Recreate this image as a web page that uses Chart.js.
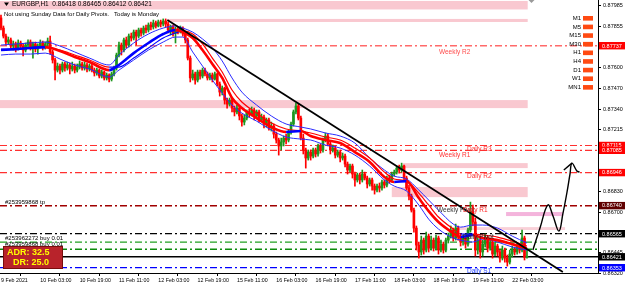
<!DOCTYPE html>
<html>
<head>
<meta charset="utf-8">
<title>EURGBP,H1</title>
<script src="https://cdn.jsdelivr.net/npm/chart.js"></script>
<style>
  html, body { margin: 0; padding: 0; background: #fff; }
</style>
</head>
<body>
<canvas id="myChart" width="625" height="288"></canvas>
<script>
var ctx = document.getElementById('myChart').getContext('2d');

// hourly bars from 9 Feb 2021 11:00, prices in points (1e-5)
var barOpen = [
 87910,87847,87797,87760,87773,87735,87748,87723,87754,87735,
 87710,87741,87760,87729,87748,87716,87735,87754,87729,87748,
 87766,87698,87648,87585,87610,87585,87623,87598,87617,87592,
 87610,87585,87604,87623,87598,87617,87592,87610,87585,87567,
 87585,87548,87573,87536,87554,87529,87561,87598,87679,87741,
 87710,87773,87741,87797,87785,87822,87797,87835,87816,87847,
 87835,87866,87854,87879,87860,87885,87872,87891,87872,87835,
 87854,87816,87841,87829,87847,87810,87773,87660,87536,87561,
 87523,87573,87548,87585,87561,87536,87554,87529,87561,87498,
 87448,87473,87398,87373,87398,87348,87324,87348,87299,87261,
 87286,87324,87311,87336,87299,87324,87274,87292,87249,87274,
 87224,87236,87186,87149,87112,87137,87161,87149,87199,87249,
 87324,87361,87286,87161,87087,87037,87074,87049,87087,87062,
 87112,87087,87149,87174,87124,87087,87099,87055,87074,87037,
 87049,86999,86962,86987,86937,86900,86931,86900,86937,86912,
 86875,86900,86862,86837,86862,86850,86887,86868,86912,86900,
 86937,86949,86974,86962,86987,86912,86850,86800,86712,86600,
 86494,86451,86525,86463,86550,86475,86525,86475,86538,86463,
 86500,86463,86525,86550,86588,86538,86600,86550,86513,86538,
 86500,86588,86700,86638,86463,86525,86451,86500,86538,86475,
 86513,86438,86488,86451,86413,86463,86413,86388,86438,86463,
 86451,86488,86463,86538,86418];
var barHigh = [
 87928,87860,87810,87791,87785,87766,87760,87773,87766,87748,
 87754,87773,87773,87760,87760,87748,87773,87766,87760,87785,
 87797,87710,87660,87629,87623,87635,87635,87635,87629,87635,
 87623,87623,87642,87635,87635,87629,87623,87623,87598,87598,
 87592,87585,87579,87567,87561,87573,87610,87691,87760,87754,
 87785,87791,87810,87816,87835,87835,87847,87847,87860,87866,
 87879,87885,87897,87891,87897,87897,87904,87904,87885,87866,
 87866,87854,87854,87860,87854,87822,87785,87673,87585,87573,
 87585,87585,87598,87598,87573,87567,87567,87573,87567,87511,
 87486,87479,87411,87411,87405,87361,87367,87361,87311,87305,
 87336,87342,87355,87348,87336,87336,87311,87305,87286,87286,
 87261,87249,87199,87161,87161,87174,87186,87211,87261,87336,
 87380,87373,87299,87186,87099,87087,87087,87099,87099,87124,
 87124,87161,87193,87186,87137,87118,87112,87087,87087,87068,
 87062,87012,86999,86999,86949,86943,86943,86962,86949,86924,
 86912,86912,86875,86875,86881,86900,86900,86924,86931,86949,
 86962,86987,86993,87005,86993,86924,86868,86812,86725,86613,
 86513,86550,86538,86575,86563,86550,86538,86557,86550,86525,
 86513,86538,86569,86613,86600,86625,86613,86563,86557,86550,
 86600,86762,86744,86663,86550,86538,86525,86563,86550,86538,
 86525,86513,86500,86463,86488,86475,86432,86463,86488,86482,
 86507,86500,86588,86550,86465];
var barLow = [
 87835,87785,87741,87748,87723,87710,87698,87710,87716,87673,
 87698,87729,87710,87660,87698,87685,87723,87710,87716,87735,
 87685,87629,87523,87573,87561,87573,87579,87585,87561,87579,
 87567,87573,87592,87585,87585,87573,87579,87573,87548,87554,
 87536,87536,87523,87523,87511,87517,87548,87585,87667,87679,
 87698,87723,87729,87766,87773,87741,87785,87797,87804,87816,
 87822,87835,87841,87847,87854,87854,87860,87854,87816,87804,
 87797,87754,87810,87816,87797,87754,87648,87511,87523,87498,
 87511,87529,87536,87548,87523,87523,87511,87523,87486,87423,
 87430,87373,87348,87361,87324,87299,87311,87274,87236,87243,
 87274,87292,87299,87274,87286,87261,87261,87224,87230,87211,
 87205,87161,87130,87055,87087,87112,87124,87137,87186,87236,
 87311,87274,87149,87062,86974,87024,87024,87037,87043,87049,
 87068,87074,87137,87112,87062,87074,87037,87043,87012,87024,
 86981,86937,86949,86912,86862,86887,86875,86887,86900,86850,
 86862,86837,86812,86825,86825,86837,86850,86856,86881,86887,
 86924,86937,86943,86949,86900,86837,86775,86700,86575,86463,
 86413,86432,86438,86451,86451,86463,86457,86463,86438,86451,
 86444,86451,86507,86538,86519,86525,86525,86488,86494,86475,
 86488,86575,86613,86426,86438,86413,86426,86482,86451,86463,
 86413,86426,86426,86388,86401,86388,86363,86376,86420,86432,
 86438,86444,86451,86401,86412];
var barClose = [
 87847,87797,87760,87773,87735,87748,87723,87754,87735,87710,
 87741,87760,87729,87748,87716,87735,87754,87729,87748,87766,
 87698,87648,87585,87610,87585,87623,87598,87617,87592,87610,
 87585,87604,87623,87598,87617,87592,87610,87585,87567,87585,
 87548,87573,87536,87554,87529,87561,87598,87679,87741,87710,
 87773,87741,87797,87785,87822,87797,87835,87816,87847,87835,
 87866,87854,87879,87860,87885,87872,87891,87872,87835,87854,
 87816,87841,87829,87847,87810,87773,87660,87536,87561,87523,
 87573,87548,87585,87561,87536,87554,87529,87561,87498,87448,
 87473,87398,87373,87398,87348,87324,87348,87299,87261,87286,
 87324,87311,87336,87299,87324,87274,87292,87249,87274,87224,
 87236,87186,87149,87112,87137,87161,87149,87199,87249,87324,
 87361,87286,87161,87087,87037,87074,87049,87087,87062,87112,
 87087,87149,87174,87124,87087,87099,87055,87074,87037,87049,
 86999,86962,86987,86937,86900,86931,86900,86937,86912,86875,
 86900,86862,86837,86862,86850,86887,86868,86912,86900,86937,
 86949,86974,86962,86987,86912,86850,86800,86712,86600,86494,
 86451,86525,86463,86550,86475,86525,86475,86538,86463,86500,
 86463,86525,86550,86588,86538,86600,86550,86513,86538,86500,
 86588,86700,86638,86463,86525,86451,86500,86538,86475,86513,
 86438,86488,86451,86413,86463,86413,86388,86438,86463,86451,
 86488,86463,86538,86418,86421];

// indicator lines read at these bars
var maBars = [0,6,12,18,24,30,36,44,48,54,60,66,71,74,78,82,86,90,94,98,104,110,116,122,126,132,138,144,150,156,160,165,170,174,178,184,187,192,196,202,208,214];
var maMid = [87710,87716,87723,87729,87704,87667,87635,87585,87617,87691,87754,87810,87835,87822,87785,87710,87623,87536,87411,87348,87286,87230,87199,87205,87174,87149,87130,87074,87012,86918,86887,86893,86787,86706,86638,86569,86544,86557,86538,86525,86500,86475];
var maSlow = [87716,87716,87723,87723,87710,87679,87648,87604,87604,87660,87723,87785,87816,87829,87810,87748,87660,87573,87461,87386,87317,87255,87218,87205,87193,87168,87149,87099,87037,86949,86906,86893,86818,86744,86669,86594,86563,86563,86557,86544,86519,86488];
var bandUp = [87741,87748,87754,87760,87735,87698,87660,87617,87679,87754,87810,87847,87860,87847,87822,87779,87723,87642,87536,87448,87367,87299,87249,87230,87218,87193,87174,87130,87037,86962,86924,86906,86837,86775,86712,86625,86606,86619,86619,86600,86550,86507];
var bandLow = [87679,87685,87685,87691,87654,87617,87592,87542,87585,87648,87710,87760,87791,87791,87698,87610,87523,87442,87367,87317,87267,87211,87168,87155,87149,87118,87099,87055,86987,86900,86862,86831,86744,86656,86594,86538,86525,86513,86532,86513,86482,86463];

// drawn objects
var trendBars = [67.7, 228.6];
var trendPrices = [87898, 86326];
var projBars = [216.4, 219.3, 222.5, 224.6, 227.0, 228.6, 230.3, 231.5, 232.3, 234.3, 235.4];
var projPrices = [86463, 86600, 86744, 86675, 86581, 86688, 86825, 86937, 87005, 86956, 86949];
var arrowBars = [229.0, 232.3];
var arrowPrices = [86962, 87005];

var zoneFrom = [-1, 67.5, -1, 163.5, 159, 205.5, 184.7];
var zoneTo = [214.3, 214.3, 214.3, 214.3, 214.3, 228.6, 229.5];
var zoneHigh = [88016, 87904, 87398, 87005, 86856, 86700, 86606];
var zoneLow = [87963, 87885, 87348, 86974, 86793, 86675, 86588];

var levelPrices = [0.87737, 0.87115, 0.87085, 0.86946, 0.86740, 0.86565, 0.86513, 0.86468, 0.86421, 0.86353];

var timeTickBars = [0, 16, 32, 48, 64, 80, 96, 112, 128, 144, 160, 176, 192, 208];
var timeTickLabels = ['9 Feb 2021', '10 Feb 03:00', '10 Feb 19:00', '11 Feb 11:00', '12 Feb 03:00', '12 Feb 19:00',
  '15 Feb 11:00', '16 Feb 03:00', '16 Feb 19:00', '17 Feb 11:00', '18 Feb 03:00', '18 Feb 19:00', '19 Feb 11:00', '22 Feb 03:00'];
var priceTicks = [0.87985, 0.87855, 0.87725, 0.87600, 0.87470, 0.87340, 0.87215, 0.87085, 0.86955, 0.86830, 0.86700, 0.86570, 0.86445, 0.86320];

var P = 1e5;
var FONT = '"Liberation Sans", Arial, sans-serif';

var bull = '#1e961e', bear = '#ff0000';
var candleColors = barOpen.map((o, i) => barClose[i] >= o ? bull : bear);
var wicks = barOpen.map((o, i) => ({ x: i, y: [barLow[i] / P, barHigh[i] / P] }));
var bodies = barOpen.map((o, i) => ({ x: i, y: [o / P, barClose[i] / P] }));

function pts(xs, ys) { return xs.map((x, i) => ({ x: x, y: ys[i] / P })); }
function slopeColor(c) { return c.p1.parsed.y >= c.p0.parsed.y ? '#0000ff' : '#ff0000'; }

var levelStyles = [
  { color: '#ff6a6a', width: 1.5, dash: [7, 3, 2, 3] },
  { color: '#ff3030', width: 1.2, dash: [7, 3, 2, 3] },
  { color: '#ff3030', width: 1.2, dash: [7, 3, 2, 3] },
  { color: '#ff3030', width: 1.2, dash: [7, 3, 2, 3] },
  { color: '#a00000', width: 1.5, dash: [7, 3, 2, 3] },
  { color: '#000000', width: 1.2, dash: [7, 3, 2, 3] },
  { color: '#22a022', width: 1.2, dash: [7, 3, 2, 3] },
  { color: '#0c8a0c', width: 1.6, dash: [7, 3, 2, 3] },
  { color: '#000000', width: 1.5, dash: [] },
  { color: '#0000ff', width: 1.2, dash: [7, 3, 2, 3] }
];
var zoneColors = ['#f9c8d0', '#f9c8d0', '#f9c8d0', '#f9c8d0', '#f9c8d0', '#f4b4dc', '#f9d0d8'];

function text(c, s, x, y, color, font, align) {
  c.font = font;
  c.fillStyle = color;
  c.textAlign = align || 'left';
  c.textBaseline = 'middle';
  c.fillText(s, x, y);
}

var decor = {
  id: 'decor',
  beforeDatasetsDraw: function (chart) {
    var c = chart.ctx, a = chart.chartArea, xs = chart.scales.x, ys = chart.scales.y;
    c.save();
    c.beginPath(); c.rect(a.left, a.top, a.right - a.left, a.bottom - a.top); c.clip();
    zoneFrom.forEach(function (b, k) {
      var x0 = xs.getPixelForValue(b), x1 = xs.getPixelForValue(zoneTo[k]);
      var y0 = ys.getPixelForValue(zoneHigh[k] / P), y1 = ys.getPixelForValue(zoneLow[k] / P);
      c.fillStyle = zoneColors[k];
      c.fillRect(x0, y0, x1 - x0, y1 - y0);
    });
    levelPrices.forEach(function (p, k) {
      var st = levelStyles[k], y = ys.getPixelForValue(p);
      c.strokeStyle = st.color; c.lineWidth = st.width; c.setLineDash(st.dash);
      c.beginPath(); c.moveTo(a.left, y); c.lineTo(a.right, y); c.stroke();
    });
    c.restore();
  },
  afterDatasetsDraw: function (chart) {
    var c = chart.ctx, xs = chart.scales.x, ys = chart.scales.y;
    var f65 = '6.5px ' + FONT, f6 = '6px ' + FONT;
    c.save();
    // pivot names
    [['Weekly R2', 178.2, 0.87737, 6, '#ff4d4d'],
     ['Daily R3', 189.6, 0.87115, 3.5, '#ff3333'],
     ['Weekly R1', 178.2, 0.87085, 4.5, '#ff3333'],
     ['Daily R2', 189.6, 0.86946, 4, '#ff3333'],
     ['Weekly Pivot', 177.4, 0.86740, 5, '#333333'],
     ['Daily R1', 188, 0.86740, 5, '#ff2020'],
     ['Daily Pivot', 188, 0.86565, 4, '#222222'],
     ['Daily S1', 189.6, 0.86353, 3.5, '#2040ff']].forEach(function (l) {
      text(c, l[0], xs.getPixelForValue(l[1]), ys.getPixelForValue(l[2]) + l[3], l[4], f65);
    });
    // order tags
    [['#253959868 tp', 0.86740, -3], ['#253962272 buy 0.01', 0.86513, -4], ['#253959868 buy 0.01', 0.86468, -5]].forEach(function (l) {
      text(c, l[0], 5, ys.getPixelForValue(l[1]) + l[2], '#000', f6);
    });
    // ADR panel
    c.fillStyle = '#b8232b'; c.fillRect(3, 246, 60, 23);
    c.strokeStyle = '#7a0d0d'; c.lineWidth = 1; c.strokeRect(3.5, 246.5, 59, 22);
    text(c, 'ADR: 32.5', 7, 252.5, '#ffff00', 'bold 9px ' + FONT);
    text(c, 'DR: 25.0', 13, 263, '#ffff00', 'bold 9px ' + FONT);
    // header
    var n = barOpen.length - 1;
    var hdr = 'EURGBP,H1  ' + [barOpen[n], barHigh[n], barLow[n], barClose[n]].map(v => (v / P).toFixed(5)).join(' ');
    c.fillStyle = '#000';
    c.beginPath(); c.moveTo(4, 2.5); c.lineTo(9, 2.5); c.lineTo(6.5, 6); c.closePath(); c.fill();
    text(c, hdr, 12, 4.5, '#000', f65);
    text(c, 'Not using Sunday Data for Daily Pivots.   Today is Monday', 4, 14, '#000', f6);
    // chart shift marker
    c.fillStyle = '#9a9a9a';
    c.beginPath(); c.moveTo(528.5, 0); c.lineTo(534.5, 0); c.lineTo(531.5, 3); c.closePath(); c.fill();
    // timeframe panel
    ['M1', 'M5', 'M15', 'M30', 'H1', 'H4', 'D1', 'W1', 'MN1'].forEach(function (t, k) {
      var y = 18.3 + k * 8.63;
      text(c, t, 581, y, '#000', f6, 'right');
      c.fillStyle = '#ff4a12'; c.fillRect(583, y - 2.3, 10, 4.6);
    });
    c.restore();
  },
  afterDraw: function (chart) {
    var c = chart.ctx, ys = chart.scales.y;
    c.save();
    [[0.87737, '#ff0000'], [0.87115, '#ff0000'], [0.87085, '#ff0000'], [0.86946, '#ff0000'],
     [0.86740, '#600000'], [0.86565, '#000000'], [0.86421, '#000000'], [0.86353, '#0000ff']].forEach(function (l) {
      var y = ys.getPixelForValue(l[0]);
      c.fillStyle = l[1]; c.fillRect(599, y - 3.7, 26, 7.4);
      text(c, l[0].toFixed(5), 602, y + 0.3, '#fff', '5.5px ' + FONT);
    });
    c.restore();
  }
};

var myChart = new Chart(ctx, {
  type: 'bar',
  data: {
    datasets: [
      { type: 'bar', data: wicks, backgroundColor: candleColors, barThickness: 1, grouped: false, order: 11 },
      { type: 'bar', data: bodies, backgroundColor: candleColors, barThickness: 2, minBarLength: 1, grouped: false, order: 10 },
      { type: 'line', data: pts(maBars, bandUp), borderColor: '#2a2aff', borderWidth: 1, pointRadius: 0, tension: 0.4, cubicInterpolationMode: 'monotone', order: 5 },
      { type: 'line', data: pts(maBars, bandLow), borderColor: '#2a2aff', borderWidth: 1, pointRadius: 0, tension: 0.4, cubicInterpolationMode: 'monotone', order: 5 },
      { type: 'line', data: pts(maBars, maSlow), borderColor: '#ff0000', segment: { borderColor: slopeColor }, borderWidth: 1.2, pointRadius: 0, cubicInterpolationMode: 'monotone', order: 4 },
      { type: 'line', data: pts(maBars, maMid), borderColor: '#ff0000', segment: { borderColor: slopeColor }, borderWidth: 2.6, pointRadius: 0, cubicInterpolationMode: 'monotone', order: 3 },
      { type: 'line', data: pts(trendBars, trendPrices), borderColor: '#000', borderWidth: 1.8, pointRadius: 0, order: 1 },
      { type: 'line', data: pts(projBars, projPrices), borderColor: '#000', borderWidth: 1.4, pointRadius: 0, tension: 0.4, order: 1 },
      { type: 'line', data: pts(arrowBars, arrowPrices), borderColor: '#000', borderWidth: 1.4, pointRadius: 0, order: 1 }
    ]
  },
  options: {
    responsive: false,
    animation: false,
    events: [],
    layout: { padding: 0 },
    plugins: { legend: { display: false }, tooltip: { enabled: false } },
    scales: {
      x: {
        type: 'linear', min: -0.4, max: 242.9, offset: false,
        grid: { drawOnChartArea: false, drawTicks: true, tickLength: 3, color: '#000' },
        border: { display: true, color: '#000', width: 1 },
        afterBuildTicks: function (axis) { axis.ticks = timeTickBars.map(v => ({ value: v })); },
        afterFit: function (axis) { axis.height = 15; axis.paddingLeft = 0; axis.paddingRight = 0; },
        ticks: {
          autoSkip: false, maxRotation: 0, minRotation: 0, align: 'start', padding: 1,
          color: '#000', font: { family: FONT, size: 5.3 },
          callback: function (v, i) { return timeTickLabels[i]; }
        }
      },
      y: {
        type: 'linear', position: 'right', min: 0.86320, max: 0.88022,
        grid: { drawOnChartArea: false, drawTicks: true, tickLength: 3, color: '#000' },
        border: { display: true, color: '#000', width: 1 },
        afterBuildTicks: function (axis) { axis.ticks = priceTicks.map(v => ({ value: v })); },
        afterFit: function (axis) { axis.width = 27; axis.paddingTop = 0; axis.paddingBottom = 0; },
        ticks: {
          autoSkip: false, padding: 2, color: '#000', font: { family: FONT, size: 5.5 },
          callback: function (v) { return v.toFixed(5); }
        }
      }
    }
  },
  plugins: [decor]
});
</script>
</body>
</html>
